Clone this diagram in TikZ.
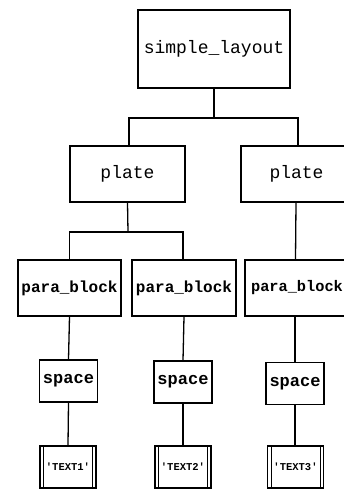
\documentclass[tikz,border=0pt]{standalone}
\usepackage{fontspec}
\newfontfamily\mono{Liberation Mono}
\begin{document}
\begin{tikzpicture}[x=1pt,y=-1pt,
  box/.style={draw, line width=1.3pt, inner sep=0pt, font=\mono},
  textbox/.style={box, path picture={
    \draw[line width=1pt] ([xshift=3.5pt]path picture bounding box.north west) -- ([xshift=3.5pt]path picture bounding box.south west);
    \draw[line width=1pt] ([xshift=-3.5pt]path picture bounding box.north east) -- ([xshift=-3.5pt]path picture bounding box.south east);}},
  link/.style={line width=1.3pt}]
\useasboundingbox (0,0) rectangle (344,489);
\clip (0,0) rectangle (344,489);

% root
\node[box, minimum width=152pt, minimum height=78pt, font=\mono\fontsize{18}{20}\selectfont] (root) at (214,49) {simple\_layout};

% plates
\node[box, minimum width=115pt, minimum height=56pt, font=\mono\fontsize{18}{20}\selectfont] (plateA) at (127.5,174) {plate};
\node[box, minimum width=111pt, minimum height=56pt, font=\mono\fontsize{18}{20}\selectfont] (plateB) at (296.5,174) {plate};

% paragraph blocks
\tikzset{pb/.style={box, minimum height=56pt, font=\mono\bfseries\fontsize{16}{18}\selectfont}}
\node[pb, minimum width=103pt] (pbA) at (69.5,288) {para\_block};
\node[pb, minimum width=104pt] (pbB) at (184,288) {para\_block};
\node[pb, minimum width=104pt, font=\mono\bfseries\fontsize{15.3}{18}\selectfont] (pbC) at (297,288) {para\_block};

% spaces
\tikzset{sp/.style={box, minimum width=58pt, minimum height=42pt, font=\mono\bfseries\fontsize{17}{19}\selectfont}}
\node[sp] (spA) at (68.5,381) {space};
\node[sp] (spB) at (183,382) {space};
\node[sp] (spC) at (295,383.5) {space};

% text leaves
\tikzset{tx/.style={textbox, minimum width=56pt, minimum height=42pt, font=\mono\bfseries\fontsize{10.5}{12}\selectfont}}
\node[tx] (txA) at (68,467) {'TEXT1'};
\node[tx] (txB) at (183,467) {'TEXT2'};
\node[tx] (txC) at (295.5,467) {'TEXT3'};

% connectors
\coordinate (busR) at (214,118);
\draw[link] (root.south) -- (busR);
\draw[link] ([xshift=1.5pt]plateA.north) |- (busR) -| ([xshift=1.5pt]plateB.north);

\coordinate (busA) at (128,232);
\draw[link] (plateA.south) -- (busA);
\draw[link] (pbA.north) |- (busA) -| ([xshift=-1pt]pbB.north);

\draw[link] ([xshift=-0.5pt]plateB.south) -- ([xshift=-1.5pt]pbC.north);

\draw[link] (pbA.south) -- (spA.north);
\draw[link] (pbB.south) -- (spB.north);
\draw[link] ([xshift=-2pt]pbC.south) -- (spC.north);

\draw[link] (spA.south) -- (txA.north);
\draw[link] (spB.south) -- (txB.north);
\draw[link] (spC.south) -- ([xshift=-0.5pt]txC.north);
\end{tikzpicture}
\end{document}
